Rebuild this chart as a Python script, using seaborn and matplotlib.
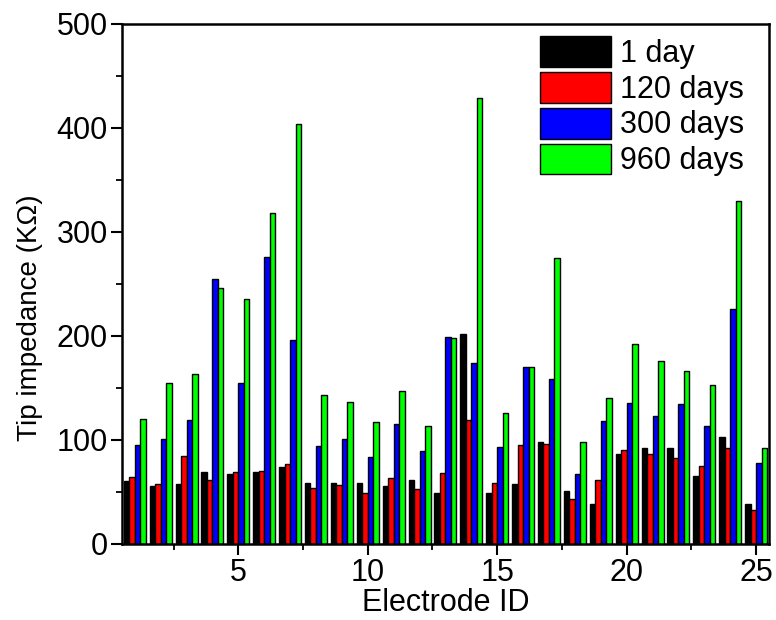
import matplotlib
matplotlib.use("Agg")
import matplotlib.pyplot as plt
from matplotlib.ticker import MultipleLocator
import numpy as np
import pandas as pd
import seaborn as sns

# Tip impedance (kOhm) of each electrode at four time points after implantation
electrodes = list(range(1, 26))
periods = ["1 day", "120 days", "300 days", "960 days"]
day1 = [61, 56, 58, 69, 67, 69, 74, 59, 59, 59, 56, 62, 49, 202, 49, 58, 98, 51, 38, 87, 92, 92, 65, 103, 38]
day120 = [64, 58, 85, 62, 69, 70, 77, 54, 57, 49, 63, 53, 68, 119, 59, 95, 96, 43, 62, 90, 87, 83, 75, 92, 33]
day300 = [95, 101, 119, 255, 155, 276, 196, 94, 101, 84, 115, 89, 199, 174, 93, 170, 159, 67, 118, 136, 123, 135, 113, 226, 78]
day960 = [120, 155, 163, 246, 236, 318, 404, 143, 137, 117, 147, 113, 198, 429, 126, 170, 275, 98, 140, 192, 176, 166, 153, 330, 92]
colors = ["#000000", "#ff0000", "#0000ff", "#00ff00"]

df = pd.DataFrame({
    "Electrode": electrodes * 4,
    "Impedance": day1 + day120 + day300 + day960,
    "Period": [p for p in periods for _ in electrodes],
})

sns.set_style("ticks")
plt.rcParams["font.family"] = ["Liberation Sans", "DejaVu Sans"]
plt.rcParams["axes.linewidth"] = 1.8
plt.rcParams["text.color"] = "black"
plt.rcParams["axes.labelcolor"] = "black"
plt.rcParams["xtick.color"] = "black"
plt.rcParams["ytick.color"] = "black"
plt.rcParams["axes.edgecolor"] = "black"

fig = plt.figure(figsize=(7.76, 6.2), dpi=100)
ax = fig.add_axes([0.157, 0.1226, 0.834, 0.8387])

sns.barplot(data=df, x="Electrode", y="Impedance", hue="Period",
            hue_order=periods, palette=colors, native_scale=True,
            width=0.85, errorbar=None, edgecolor="black", linewidth=1.0,
            saturation=1, ax=ax)

ax.set_xlim(0.5, 25.5)
ax.set_ylim(0, 500)
ax.xaxis.set_major_locator(MultipleLocator(5))
ax.xaxis.set_minor_locator(MultipleLocator(2.5))
ax.yaxis.set_major_locator(MultipleLocator(100))
ax.yaxis.set_minor_locator(MultipleLocator(50))
ax.tick_params(axis="both", which="major", direction="out", length=8, width=1.5,
               labelsize=22, pad=2, top=False, right=False, colors="black")
ax.tick_params(axis="both", which="minor", direction="out", length=4, width=1.3,
               top=False, right=False, colors="black")
for side in ["top", "right", "left", "bottom"]:
    ax.spines[side].set_visible(True)
    ax.spines[side].set_linewidth(1.8)
    ax.spines[side].set_color("black")

ax.set_xlabel("Electrode ID", fontsize=22, labelpad=0)
ax.set_ylabel("Tip impedance (KΩ)", fontsize=20)
ax.yaxis.set_label_coords(-0.122, 0.435)

leg = ax.legend(loc="upper left", bbox_to_anchor=(540 / 776, 1 - 36 / 620),
                bbox_transform=fig.transFigure, borderaxespad=0, borderpad=0,
                fontsize=22, frameon=False, handlelength=2.32, handleheight=1.18,
                labelspacing=0.1, handletextpad=0.3)

fig.savefig("out.png", dpi=100, facecolor="white")
